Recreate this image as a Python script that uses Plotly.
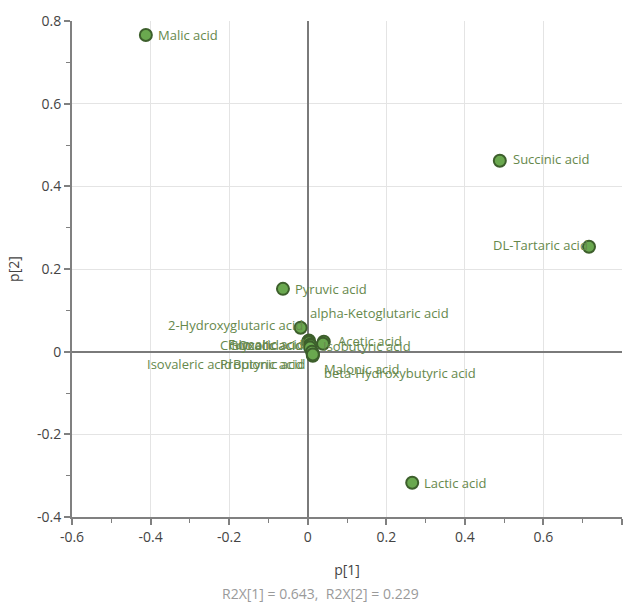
import plotly.graph_objects as go

# ---- data ----
compounds = ["Malic acid", "Succinic acid", "DL-Tartaric acid", "Pyruvic acid", "Lactic acid",
             "2-Hydroxyglutaric acid", "alpha-Ketoglutaric acid", "Acetic acid", "Isobutyric acid",
             "Malonic acid", "beta-Hydroxybutyric acid", "Citric acid", "Glycolic acid", "Oxalic acid",
             "Fumaric acid", "Isovaleric acid", "Propionic acid", "Butyric acid"]
p1 = [-0.412, 0.489, 0.716, -0.063, 0.266,
      -0.018, 0.003, 0.041, 0.039,
      0.013, 0.013, 0.001, 0.003, 0.006,
      0.008, 0.006, 0.011, 0.013]
p2 = [0.766, 0.462, 0.254, 0.152, -0.317,
      0.058, 0.027, 0.024, 0.019,
      -0.005, -0.010, 0.024, 0.022, 0.017,
      0.015, 0.010, 0.000, -0.007]

x_tickvals = [-0.6, -0.4, -0.2, 0, 0.2, 0.4, 0.6, 0.8]
x_ticktext = ["-0.6", "-0.4", "-0.2", "0", "0.2", "0.4", "0.6", "0.8"]
y_tickvals = [-0.4, -0.2, 0, 0.2, 0.4, 0.6, 0.8]
y_ticktext = ["-0.4", "-0.2", "0", "0.2", "0.4", "0.6", "0.8"]
footer = "R2X[1] = 0.643,  R2X[2] = 0.229"

# ---- label placement (style, pixels): anchor, xshift, yshift ----
label_place = [("left", 10, 0), ("left", 11, 2), ("right", 1, 2), ("left", 10, 0), ("left", 10, 0),
               ("right", 4, 3), ("left", -1, 28), ("left", 12, 1), ("left", -2, -2),
               ("left", 9, -15), ("left", 9, -17), ("left", -90, -3), ("right", -4, -2), ("right", -5, 0),
               ("left", -85, 1), ("left", -165, -16), ("left", -94, -12), ("right", -8, -9)]

FONT = "Open Sans"
LABEL_COLOR = "#66884c"
AXIS_GRAY = "#808080"

fig = go.Figure()
fig.add_trace(go.Scatter(
    x=p1, y=p2, mode="markers",
    marker=dict(size=12, color="#6aa84f", line=dict(color="#3d5f2c", width=2)),
    hoverinfo="skip", showlegend=False, cliponaxis=False,
))

for name, xv, yv, (anc, dx, dy) in zip(compounds, p1, p2, label_place):
    fig.add_annotation(x=xv, y=yv, text=name, showarrow=False, xanchor=anc, yanchor="middle",
                       xshift=dx, yshift=dy, font=dict(family=FONT, size=13, color=LABEL_COLOR))

fig.add_annotation(x=0.451, y=-0.155, xref="paper", yref="paper", text=footer, showarrow=False,
                   xanchor="center", yanchor="middle", font=dict(family=FONT, size=14, color="#9a9a9a"))

axis_common = dict(
    showgrid=True, gridcolor="#e4e4e4", gridwidth=1,
    zeroline=True, zerolinecolor="#7a7a7a", zerolinewidth=2,
    showline=True, linecolor=AXIS_GRAY, linewidth=2,
    ticks="outside", ticklen=6, tickcolor=AXIS_GRAY, tickwidth=2,
    tickfont=dict(family=FONT, size=14, color="#444444"),
    mirror=False, automargin=False,
)

fig.update_layout(
    width=630, height=603,
    margin=dict(l=72, r=8, t=21, b=86),
    paper_bgcolor="white", plot_bgcolor="white",
    font=dict(family=FONT),
    xaxis=dict(range=[-0.6, 0.8], tickvals=x_tickvals, ticktext=x_ticktext,
               title=dict(text="p[1]", font=dict(family=FONT, size=14, color="#444444"), standoff=20),
               minor=dict(dtick=0.1, tick0=0, ticks="outside", ticklen=4, tickcolor=AXIS_GRAY, tickwidth=1,
                          showgrid=False),
               **axis_common),
    yaxis=dict(range=[-0.4, 0.8], tickvals=y_tickvals, ticktext=y_ticktext,
               title=dict(text="p[2]", font=dict(family=FONT, size=14, color="#444444"), standoff=14),
               minor=dict(dtick=0.1, tick0=0, ticks="outside", ticklen=4, tickcolor=AXIS_GRAY, tickwidth=1,
                          showgrid=False),
               **axis_common),
)

fig.write_html("out.html", config={"displayModeBar": False},
               post_script="document.body.style.margin='0';document.body.style.overflow='hidden';")
